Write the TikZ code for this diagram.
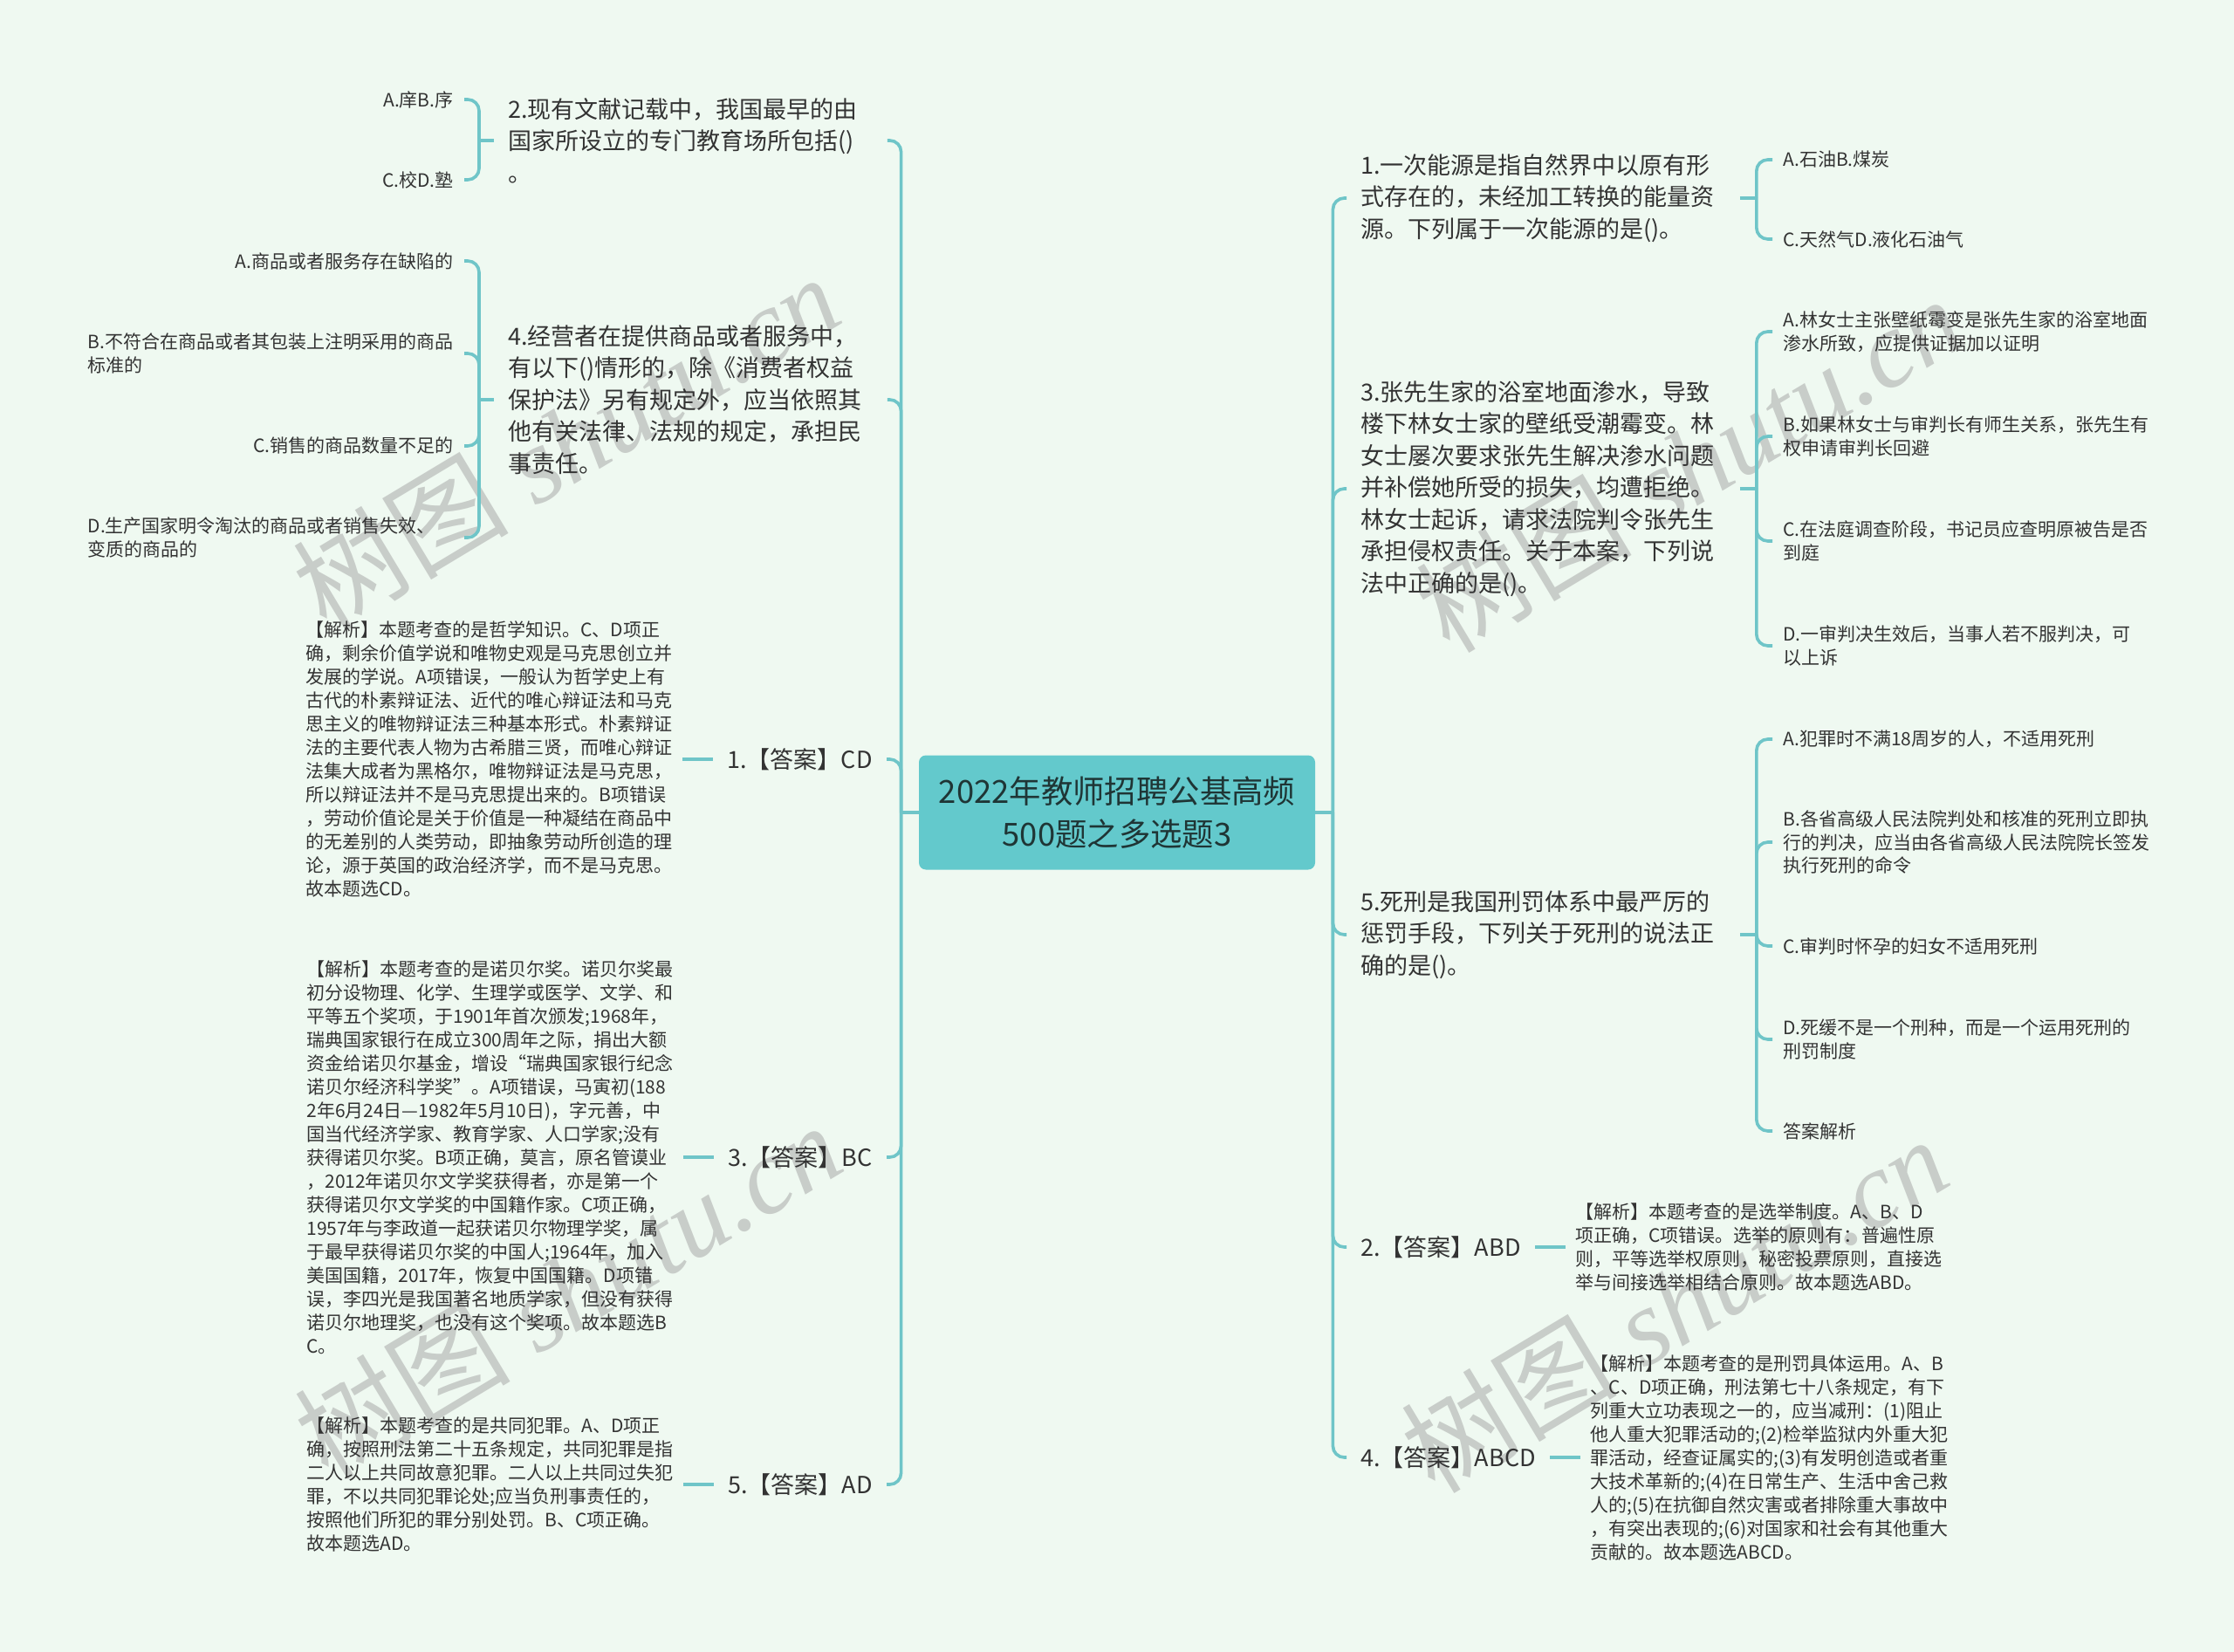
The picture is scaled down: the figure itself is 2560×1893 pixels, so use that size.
\documentclass[tikz,border=0pt]{standalone}
\usepackage{fontspec}
\setmainfont{Noto Sans CJK SC}
\newfontfamily\wmserif{Liberation Serif}
\usepackage{tikz}
\usetikzlibrary{positioning}
\definecolor{bgmint}{HTML}{EFF9F1}
\definecolor{branch}{HTML}{6FC5C8}
\definecolor{rootfill}{HTML}{63C9CC}
\definecolor{roottext}{HTML}{1F3535}
\definecolor{inktext}{HTML}{333333}
\definecolor{wmgrey}{HTML}{C8CDC9}
\tikzset{
  rootbox/.style={fill=rootfill,rounded corners=4pt,align=center,text=roottext,
                  minimum width=227pt,minimum height=65.5pt,
                  font=\fontsize{18.2}{24.5}\selectfont},
  ques/.style={text width=209pt,align=left,inner xsep=8pt,inner ysep=3pt,text=inktext,
               font=\fontsize{13.5}{18.25}\selectfont},
  ans/.style={inner xsep=8pt,inner ysep=3pt,text=inktext,
              font=\fontsize{13.5}{18.25}\selectfont},
  expl/.style={align=left,inner xsep=5.5pt,inner ysep=3pt,text=inktext,
               font=\fontsize{10.5}{13.5}\selectfont},
  opt/.style={align=left,inner xsep=6pt,inner ysep=3pt,text=inktext,
              font=\fontsize{10.5}{13.25}\selectfont},
  optw/.style={opt,text width=209.5pt},
  link/.style={draw=branch,line width=1.8pt,rounded corners=6.5pt},
  wmark/.style={text=wmgrey,rotate=31,inner sep=0pt,
                font=\wmserif\itshape\fontsize{62}{62}\selectfont},
}

\begin{document}
\begin{tikzpicture}[x=0.5pt,y=-0.5pt]
  \fill[bgmint] (0,0) rectangle (2560,1893);
  \useasboundingbox (0,0) rectangle (2560,1893);

  % watermarks
  \node[wmark] (wm1) at (648,506)   {{\normalfont 树图} shutu.cn};
  \node[wmark] (wm2) at (650,1478)  {{\normalfont 树图} shutu.cn};
  \node[wmark] (wm3) at (1935,531)  {{\normalfont 树图} shutu.cn};
  \node[wmark] (wm4) at (1918,1494) {{\normalfont 树图} shutu.cn};

  \node[rootbox] (root) at (1280,931) {2022年教师招聘公基高频\\500题之多选题3};
  \coordinate (trL) at ([xshift=-10pt]root.west);
  \coordinate (trR) at ([xshift=10pt]root.east);

  % left side
  \node[ques,anchor=west] (q2) at (566,161)
    {2.现有文献记载中，我国最早的由\\国家所设立的专门教育场所包括()\\。};
  \node[ques,anchor=west] (q4) at (566,458)
    {4.经营者在提供商品或者服务中，\\有以下()情形的，除《消费者权益\\保护法》另有规定外，应当依照其\\他有关法律、法规的规定，承担民\\事责任。};
  \node[ans,anchor=east] (a1) at (1016,870) {1.【答案】CD};
  \node[ans,anchor=east] (a3) at (1016,1326) {3.【答案】BC};
  \node[ans,anchor=east] (a5) at (1016,1701) {5.【答案】AD};

  \node[expl,left=17.5pt of a1] (e1)
    {【解析】本题考查的是哲学知识。C、D项正\\
     确，剩余价值学说和唯物史观是马克思创立并\\
     发展的学说。A项错误，一般认为哲学史上有\\
     古代的朴素辩证法、近代的唯心辩证法和马克\\
     思主义的唯物辩证法三种基本形式。朴素辩证\\
     法的主要代表人物为古希腊三贤，而唯心辩证\\
     法集大成者为黑格尔，唯物辩证法是马克思，\\
     所以辩证法并不是马克思提出来的。B项错误\\
     ，劳动价值论是关于价值是一种凝结在商品中\\
     的无差别的人类劳动，即抽象劳动所创造的理\\
     论，源于英国的政治经济学，而不是马克思。\\
     故本题选CD。};
  \node[expl,left=17.5pt of a3] (e3)
    {【解析】本题考查的是诺贝尔奖。诺贝尔奖最\\
     初分设物理、化学、生理学或医学、文学、和\\
     平等五个奖项，于1901年首次颁发;1968年，\\
     瑞典国家银行在成立300周年之际，捐出大额\\
     资金给诺贝尔基金，增设“瑞典国家银行纪念\\
     诺贝尔经济科学奖”。A项错误，马寅初(188\\
     2年6月24日—1982年5月10日)，字元善，中\\
     国当代经济学家、教育学家、人口学家;没有\\
     获得诺贝尔奖。B项正确，莫言，原名管谟业\\
     ，2012年诺贝尔文学奖获得者，亦是第一个\\
     获得诺贝尔文学奖的中国籍作家。C项正确，\\
     1957年与李政道一起获诺贝尔物理学奖，属\\
     于最早获得诺贝尔奖的中国人;1964年，加入\\
     美国国籍，2017年，恢复中国国籍。D项错\\
     误，李四光是我国著名地质学家，但没有获得\\
     诺贝尔地理奖，也没有这个奖项。故本题选B\\
     C。};
  \node[expl,left=17.5pt of a5] (e5)
    {【解析】本题考查的是共同犯罪。A、D项正\\
     确，按照刑法第二十五条规定，共同犯罪是指\\
     二人以上共同故意犯罪。二人以上共同过失犯\\
     罪，不以共同犯罪论处;应当负刑事责任的，\\
     按照他们所犯的罪分别处罚。B、C项正确。\\
     故本题选AD。};

  \node[opt,anchor=east] (o2a) at (532,114) {A.庠B.序};
  \node[opt,anchor=east] (o2b) at (532,206) {C.校D.塾};
  \node[opt,anchor=east] (o4a) at (532,299) {A.商品或者服务存在缺陷的};
  \node[optw,anchor=east] (o4b) at (532,405) {B.不符合在商品或者其包装上注明采用的商品\\标准的};
  \node[opt,anchor=east] (o4c) at (532,511) {C.销售的商品数量不足的};
  \node[optw,anchor=east] (o4d) at (532,616) {D.生产国家明令淘汰的商品或者销售失效、\\变质的商品的};

  % right side
  \node[ques,anchor=west] (q1) at (1543,227)
    {1.一次能源是指自然界中以原有形\\式存在的，未经加工转换的能量资\\源。下列属于一次能源的是()。};
  \node[ques,anchor=west] (q3) at (1543,560)
    {3.张先生家的浴室地面渗水，导致\\楼下林女士家的壁纸受潮霉变。林\\女士屡次要求张先生解决渗水问题\\并补偿她所受的损失，均遭拒绝。\\林女士起诉，请求法院判令张先生\\承担侵权责任。关于本案，下列说\\法中正确的是()。};
  \node[ques,anchor=west] (q5) at (1543,1071)
    {5.死刑是我国刑罚体系中最严厉的\\惩罚手段，下列关于死刑的说法正\\确的是()。};
  \node[ans,anchor=west] (a2) at (1543,1429) {2.【答案】ABD};
  \node[ans,anchor=west] (a4) at (1543,1670) {4.【答案】ABCD};

  \node[expl,right=17.5pt of a2] (e2)
    {【解析】本题考查的是选举制度。A、B、D\\
     项正确，C项错误。选举的原则有：普遍性原\\
     则，平等选举权原则，秘密投票原则，直接选\\
     举与间接选举相结合原则。故本题选ABD。};
  \node[expl,right=17.5pt of a4] (e4)
    {【解析】本题考查的是刑罚具体运用。A、B\\
     、C、D项正确，刑法第七十八条规定，有下\\
     列重大立功表现之一的，应当减刑：(1)阻止\\
     他人重大犯罪活动的;(2)检举监狱内外重大犯\\
     罪活动，经查证属实的;(3)有发明创造或者重\\
     大技术革新的;(4)在日常生产、生活中舍己救\\
     人的;(5)在抗御自然灾害或者排除重大事故中\\
     ，有突出表现的;(6)对国家和社会有其他重大\\
     贡献的。故本题选ABCD。};

  \node[opt,anchor=west] (o1a) at (2031,183) {A.石油B.煤炭};
  \node[opt,anchor=west] (o1b) at (2031,274) {C.天然气D.液化石油气};
  \node[opt,anchor=west] (o3a) at (2031,380) {A.林女士主张壁纸霉变是张先生家的浴室地面\\渗水所致，应提供证据加以证明};
  \node[opt,anchor=west] (o3b) at (2031,500) {B.如果林女士与审判长有师生关系，张先生有\\权申请审判长回避};
  \node[opt,anchor=west] (o3c) at (2031,620) {C.在法庭调查阶段，书记员应查明原被告是否\\到庭};
  \node[opt,anchor=west] (o3d) at (2031,740) {D.一审判决生效后，当事人若不服判决，可\\以上诉};
  \node[opt,anchor=west] (o5a) at (2031,847) {A.犯罪时不满18周岁的人，不适用死刑};
  \node[opt,anchor=west] (o5b) at (2031,965) {B.各省高级人民法院判处和核准的死刑立即执\\行的判决，应当由各省高级人民法院院长签发\\执行死刑的命令};
  \node[opt,anchor=west] (o5c) at (2031,1084) {C.审判时怀孕的妇女不适用死刑};
  \node[opt,anchor=west] (o5d) at (2031,1191) {D.死缓不是一个刑种，而是一个运用死刑的\\刑罚制度};
  \node[opt,anchor=west] (o5e) at (2031,1296) {答案解析};

  \coordinate (bq2) at ([xshift=-8.5pt]q2.west);
  \coordinate (bq4) at ([xshift=-8.5pt]q4.west);
  \coordinate (bq1) at ([xshift=9.5pt]q1.east);
  \coordinate (bq3) at ([xshift=9.5pt]q3.east);
  \coordinate (bq5) at ([xshift=9.5pt]q5.east);

  % trunk
  \draw[link] (root.west) -- (trL);
  \draw[link] (root.east) -- (trR);
  \draw[link] (trL) |- (q2.east);
  \draw[link] (trL) |- (q4.east);
  \draw[link] (trL) |- (a1.east);
  \draw[link] (trL) |- (a3.east);
  \draw[link] (trL) |- (a5.east);
  \draw[link] (trR) |- (q1.west);
  \draw[link] (trR) |- (q3.west);
  \draw[link] (trR) |- (q5.west);
  \draw[link] (trR) |- (a2.west);
  \draw[link] (trR) |- (a4.west);

  % answers to explanations
  \draw[link] (a1.west) -- (e1.east);
  \draw[link] (a3.west) -- (e3.east);
  \draw[link] (a5.west) -- (e5.east);
  \draw[link] (a2.east) -- (e2.west);
  \draw[link] (a4.east) -- (e4.west);

  % option brackets
  \draw[link] (q2.west) -- (bq2);
  \draw[link] (bq2) |- (o2a.east);
  \draw[link] (bq2) |- (o2b.east);
  \draw[link] (q4.west) -- (bq4);
  \draw[link] (bq4) |- (o4a.east);
  \draw[link] (bq4) |- (o4b.east);
  \draw[link] (bq4) |- (o4c.east);
  \draw[link] (bq4) |- (o4d.east);
  \draw[link] (q1.east) -- (bq1);
  \draw[link] (bq1) |- (o1a.west);
  \draw[link] (bq1) |- (o1b.west);
  \draw[link] (q3.east) -- (bq3);
  \draw[link] (bq3) |- (o3a.west);
  \draw[link] (bq3) |- (o3b.west);
  \draw[link] (bq3) |- (o3c.west);
  \draw[link] (bq3) |- (o3d.west);
  \draw[link] (q5.east) -- (bq5);
  \draw[link] (bq5) |- (o5a.west);
  \draw[link] (bq5) |- (o5b.west);
  \draw[link] (bq5) |- (o5c.west);
  \draw[link] (bq5) |- (o5d.west);
  \draw[link] (bq5) |- (o5e.west);
\end{tikzpicture}
\end{document}
